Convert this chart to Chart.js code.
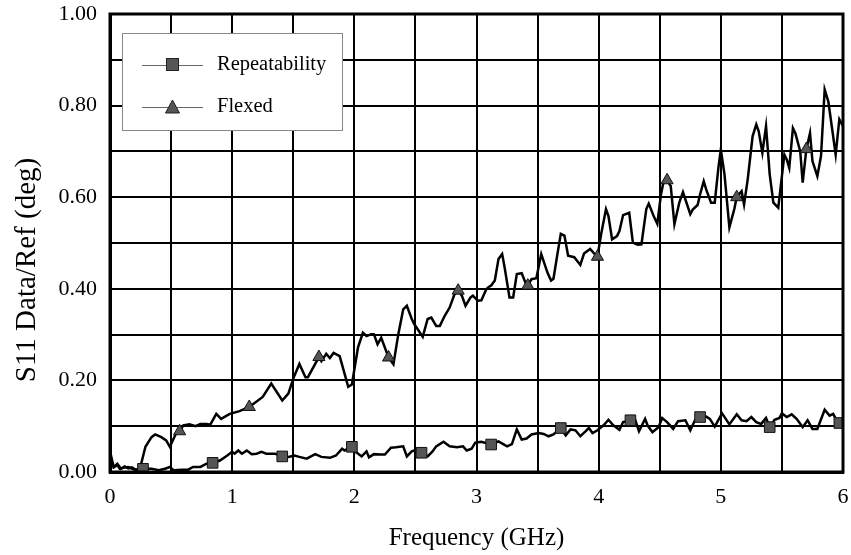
<!DOCTYPE html>
<html>
<head>
<meta charset="utf-8">
<script src="https://cdn.jsdelivr.net/npm/chart.js@4/dist/chart.umd.min.js"></script>
<style>
html,body{margin:0;padding:0;background:#fff;}
canvas{display:block;}
</style>
</head>
<body>
<canvas id="c" width="851" height="555"></canvas>
<script>
// ---- data (frequency in GHz, value in degrees) ----
const flexFreq = [0.00,0.03,0.06,0.09,0.12,0.15,0.18,0.21,0.245,0.29,0.34,0.37,0.42,0.46,0.49,0.54,0.57,0.60,0.65,0.70,0.74,0.79,0.82,0.87,0.91,0.98,1.06,1.14,1.25,1.32,1.41,1.46,1.50,1.55,1.60,1.62,1.71,1.73,1.77,1.80,1.83,1.88,1.95,1.98,2.03,2.07,2.10,2.14,2.16,2.19,2.22,2.28,2.32,2.36,2.40,2.43,2.47,2.49,2.56,2.60,2.63,2.67,2.70,2.74,2.78,2.82,2.85,2.88,2.91,2.95,2.97,3.01,3.04,3.08,3.10,3.12,3.15,3.18,3.21,3.23,3.27,3.30,3.33,3.37,3.40,3.42,3.45,3.49,3.53,3.58,3.61,3.63,3.66,3.69,3.72,3.75,3.80,3.85,3.88,3.93,3.96,3.99,4.02,4.06,4.08,4.11,4.15,4.17,4.20,4.25,4.28,4.32,4.35,4.39,4.41,4.45,4.48,4.51,4.53,4.56,4.59,4.62,4.66,4.69,4.71,4.75,4.77,4.81,4.83,4.86,4.88,4.92,4.95,4.98,5.00,5.03,5.07,5.11,5.13,5.17,5.19,5.22,5.26,5.29,5.31,5.34,5.37,5.40,5.43,5.47,5.50,5.52,5.54,5.56,5.59,5.61,5.65,5.67,5.70,5.73,5.75,5.79,5.82,5.85,5.88,5.91,5.94,5.97,6.00];
const flexVals = [0.045,0.011,0.018,0.007,0.012,0.008,0.010,0.005,0.007,0.055,0.076,0.082,0.076,0.069,0.055,0.084,0.089,0.102,0.104,0.100,0.105,0.105,0.103,0.127,0.116,0.127,0.133,0.142,0.164,0.193,0.156,0.171,0.204,0.236,0.207,0.207,0.251,0.242,0.258,0.249,0.260,0.253,0.186,0.191,0.272,0.304,0.297,0.301,0.301,0.279,0.293,0.250,0.235,0.301,0.355,0.363,0.334,0.323,0.295,0.334,0.337,0.319,0.319,0.341,0.359,0.388,0.396,0.385,0.363,0.381,0.385,0.374,0.375,0.399,0.404,0.407,0.418,0.465,0.476,0.447,0.381,0.381,0.432,0.434,0.414,0.407,0.421,0.423,0.476,0.436,0.418,0.422,0.472,0.520,0.516,0.472,0.469,0.452,0.477,0.487,0.478,0.470,0.519,0.574,0.559,0.508,0.515,0.526,0.561,0.566,0.501,0.496,0.497,0.574,0.586,0.559,0.542,0.606,0.632,0.637,0.624,0.541,0.588,0.611,0.595,0.563,0.573,0.583,0.606,0.635,0.617,0.588,0.588,0.664,0.704,0.650,0.534,0.574,0.600,0.613,0.584,0.639,0.733,0.759,0.744,0.697,0.755,0.650,0.588,0.577,0.646,0.693,0.682,0.664,0.751,0.740,0.700,0.632,0.705,0.740,0.679,0.646,0.690,0.835,0.809,0.751,0.693,0.770,0.755];
const flexMarkers = [0.57,1.14,1.71,2.28,2.85,3.42,3.99,4.56,5.13,5.70];

const repFreq = [0.00,0.03,0.06,0.08,0.12,0.15,0.19,0.22,0.27,0.34,0.40,0.45,0.49,0.52,0.59,0.64,0.68,0.74,0.79,0.84,0.90,0.96,1.00,1.02,1.05,1.08,1.12,1.16,1.20,1.24,1.28,1.35,1.41,1.46,1.51,1.55,1.61,1.68,1.73,1.80,1.85,1.90,1.92,1.98,2.01,2.06,2.10,2.12,2.16,2.21,2.25,2.30,2.34,2.40,2.43,2.47,2.51,2.55,2.60,2.64,2.67,2.73,2.78,2.84,2.89,2.92,2.96,2.99,3.04,3.12,3.18,3.25,3.29,3.33,3.37,3.41,3.45,3.51,3.55,3.59,3.63,3.69,3.73,3.77,3.81,3.85,3.89,3.92,3.95,3.99,4.04,4.08,4.12,4.17,4.20,4.26,4.30,4.33,4.38,4.40,4.44,4.49,4.52,4.56,4.61,4.65,4.71,4.75,4.79,4.83,4.88,4.91,4.95,5.01,5.07,5.13,5.17,5.21,5.25,5.29,5.33,5.37,5.40,5.44,5.48,5.50,5.54,5.58,5.62,5.67,5.71,5.75,5.79,5.85,5.89,5.92,5.95,5.97,6.00];
const repVals = [0.030,0.010,0.015,0.007,0.010,0.011,0.006,0.005,0.007,0.007,0.004,0.007,0.011,0.004,0.005,0.005,0.011,0.011,0.018,0.020,0.025,0.036,0.044,0.040,0.047,0.040,0.047,0.039,0.040,0.044,0.040,0.040,0.034,0.033,0.036,0.033,0.029,0.039,0.033,0.031,0.036,0.051,0.047,0.055,0.044,0.034,0.045,0.032,0.039,0.038,0.038,0.053,0.054,0.056,0.034,0.045,0.049,0.042,0.034,0.045,0.056,0.066,0.056,0.054,0.056,0.047,0.051,0.064,0.066,0.060,0.067,0.056,0.061,0.093,0.071,0.073,0.082,0.085,0.083,0.078,0.082,0.096,0.080,0.093,0.091,0.078,0.088,0.096,0.085,0.091,0.102,0.114,0.102,0.092,0.109,0.113,0.113,0.089,0.116,0.102,0.087,0.098,0.118,0.109,0.094,0.111,0.113,0.091,0.114,0.120,0.121,0.116,0.099,0.128,0.104,0.126,0.113,0.111,0.120,0.109,0.105,0.118,0.098,0.114,0.118,0.128,0.120,0.126,0.116,0.098,0.113,0.094,0.094,0.136,0.123,0.127,0.111,0.107,0.105];
const repMarkers = [0.27,0.84,1.41,1.98,2.55,3.12,3.69,4.26,4.83,5.40,5.97];

const seriesNames = ['Repeatability', 'Flexed'];
const xTitle = 'Frequency (GHz)';
const yTitle = 'S11 Data/Ref (deg)';

const serif = "'Liberation Serif', 'DejaVu Serif', serif";

function pts(fr, vals){ return fr.map((f,i)=>({x:f, y:vals[i]})); }
function markerRadius(markers, r){
  return ctx => (ctx.raw && markers.includes(ctx.raw.x)) ? r : 0;
}

const frameLegend = {
  id: 'frameLegend',
  afterDatasetsDraw(chart){
    const {ctx, chartArea:a} = chart;
    ctx.save();
    // thick plot frame
    ctx.strokeStyle = '#000';
    ctx.lineWidth = 3;
    ctx.strokeRect(a.left, a.top, a.right - a.left, a.bottom - a.top);
    // legend box
    const bx = 122, by = 33, bw = 220, bh = 97;
    ctx.fillStyle = '#fff';
    ctx.fillRect(bx, by, bw, bh);
    ctx.strokeStyle = '#888';
    ctx.lineWidth = 1;
    ctx.strokeRect(bx + 0.5, by + 0.5, bw, bh);
    const rows = [65, 107];
    chart.data.datasets.forEach((ds, i) => {
      const y = rows[i];
      ctx.strokeStyle = '#666';
      ctx.lineWidth = 1;
      ctx.beginPath();
      ctx.moveTo(142, y + 0.5);
      ctx.lineTo(203, y + 0.5);
      ctx.stroke();
      ctx.fillStyle = '#555';
      ctx.strokeStyle = '#222';
      ctx.lineWidth = 1;
      if (ds.pointStyle === 'rect') {
        ctx.fillRect(166, y - 7, 13, 13);
        ctx.strokeRect(166.5, y - 6.5, 12, 12);
      } else {
        ctx.beginPath();
        ctx.moveTo(172.5, y - 7);
        ctx.lineTo(179.5, y + 6);
        ctx.lineTo(165.5, y + 6);
        ctx.closePath();
        ctx.fill();
        ctx.stroke();
      }
      ctx.fillStyle = '#000';
      ctx.font = '20.5px ' + serif;
      ctx.textBaseline = 'middle';
      ctx.textAlign = 'left';
      ctx.fillText(ds.label, 217, y);
    });
    // axis titles
    ctx.fillStyle = '#000';
    ctx.textAlign = 'center';
    ctx.textBaseline = 'middle';
    ctx.font = '25px ' + serif;
    ctx.fillText(xTitle, (a.left + a.right) / 2, 538);
    ctx.save();
    ctx.translate(27, 270);
    ctx.rotate(-Math.PI / 2);
    ctx.font = '29px ' + serif;
    ctx.fillText(yTitle, 0, 0);
    ctx.restore();
    ctx.restore();
  }
};

new Chart(document.getElementById('c'), {
  type: 'line',
  data: {
    datasets: [
      {
        label: seriesNames[0],
        data: pts(repFreq, repVals),
        borderColor: '#000',
        borderWidth: 2.5,
        pointStyle: 'rect',
        pointRadius: markerRadius(repMarkers, 7.5),
        pointHoverRadius: 0,
        pointBackgroundColor: '#555',
        pointBorderColor: '#111',
        pointBorderWidth: 1,
        tension: 0,
        fill: false
      },
      {
        label: seriesNames[1],
        data: pts(flexFreq, flexVals),
        borderColor: '#000',
        borderWidth: 2.5,
        pointStyle: 'triangle',
        pointRadius: markerRadius(flexMarkers, 7),
        pointHoverRadius: 0,
        pointBackgroundColor: '#555',
        pointBorderColor: '#111',
        pointBorderWidth: 1,
        tension: 0,
        fill: false
      }
    ]
  },
  options: {
    responsive: false,
    animation: false,
    events: [],
    layout: { padding: { top: 14, right: 8, left: 0, bottom: 0 } },
    plugins: { legend: { display: false }, tooltip: { enabled: false } },
    scales: {
      x: {
        type: 'linear',
        min: 0, max: 6,
        grid: { color: '#000', lineWidth: 2, drawTicks: false },
        border: { display: true, color: '#000', width: 3 },
        ticks: {
          stepSize: 0.5,
          padding: 12,
          color: '#000',
          font: { family: serif, size: 22 },
          maxRotation: 0,
          autoSkip: false,
          callback: v => (Math.abs(v - Math.round(v)) < 1e-6 ? String(Math.round(v)) : '')
        },
        title: { display: false },
        afterFit: s => { s.height = 83; s.paddingLeft = 0; s.paddingRight = 0; }
      },
      y: {
        type: 'linear',
        min: 0, max: 1,
        grid: { color: '#000', lineWidth: 2, drawTicks: false },
        border: { display: true, color: '#000', width: 3 },
        ticks: {
          stepSize: 0.1,
          padding: 13,
          color: '#000',
          font: { family: serif, size: 22 },
          autoSkip: false,
          callback: v => (Math.round(v * 10) % 2 === 0 ? v.toFixed(2) : '')
        },
        title: { display: false },
        afterFit: s => { s.width = 110; s.paddingTop = 0; s.paddingBottom = 0; }
      }
    }
  },
  plugins: [frameLegend]
});
</script>
</body>
</html>
